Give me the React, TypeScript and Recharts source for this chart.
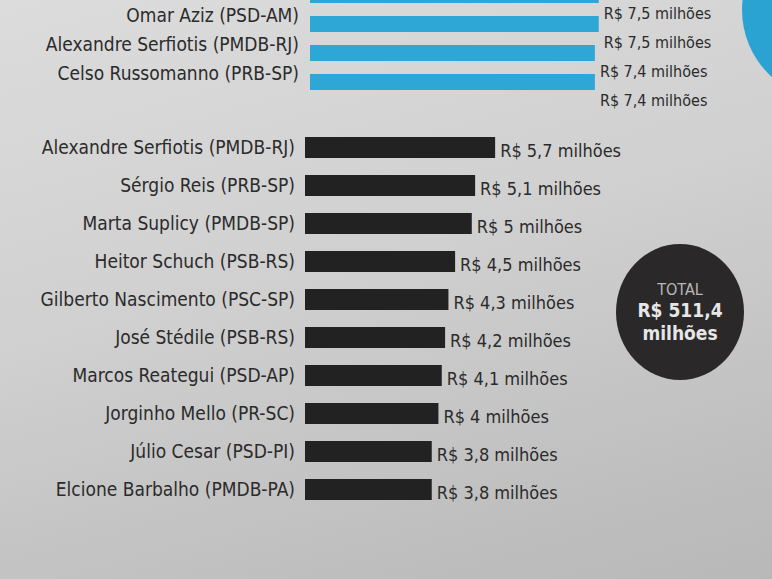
import React from "react";
import { BarChart, Bar, XAxis, YAxis, LabelList } from "recharts";

const topNames = ["", "Omar Aziz (PSD-AM)", "Alexandre Serfiotis (PMDB-RJ)", "Celso Russomanno (PRB-SP)"];
const topValues = [7.5, 7.5, 7.4, 7.4];

const names = [
  "Alexandre Serfiotis (PMDB-RJ)",
  "Sérgio Reis (PRB-SP)",
  "Marta Suplicy (PMDB-SP)",
  "Heitor Schuch (PSB-RS)",
  "Gilberto Nascimento (PSC-SP)",
  "José Stédile (PSB-RS)",
  "Marcos Reategui (PSD-AP)",
  "Jorginho Mello (PR-SC)",
  "Júlio Cesar (PSD-PI)",
  "Elcione Barbalho (PMDB-PA)",
];
const values = [5.7, 5.1, 5, 4.5, 4.3, 4.2, 4.1, 4, 3.8, 3.8];

const totalLabel = "TOTAL";
const totalValue = "R$ 511,4";
const totalUnit = "milhões";

const fmt = (v: number) => "R$ " + String(v).replace(".", ",") + " milhões";

const topData = topNames.map((n, i) => ({ id: "t" + i, name: n, value: topValues[i] }));
const data = names.map((n, i) => ({ id: "d" + i, name: n, value: values[i] }));

const FONT = "'DejaVu Sans Condensed', 'Liberation Sans Narrow', 'Roboto', sans-serif";
const TEXT = "#2b2b2b";

const NameTick = (props: any) => {
  const { x, y, payload, fontSize, shift } = props;
  const idx = payload.index;
  return (
    <text x={x} y={y + (shift || 0)} dy={fontSize * 0.35} textAnchor="end" fill={TEXT} fontSize={fontSize} fontFamily={FONT}>
      {props.labels[idx]}
    </text>
  );
};

const ValueLabel = (props: any) => {
  const { x, y, width, height, value, fontSize, offset, shift } = props;
  return (
    <text
      x={x + width + offset}
      y={y + height / 2 + (shift || 0)}
      dy={fontSize * 0.35}
      textAnchor="start"
      fill={TEXT}
      fontSize={fontSize}
      fontFamily={FONT}
    >
      {fmt(value)}
    </text>
  );
};

export default function App() {
  return (
    <div
      style={{
        position: "fixed",
        left: 0,
        top: 0,
        width: 772,
        height: 579,
        overflow: "hidden",
        background: "linear-gradient(165deg, #dcdcdc 0%, #d0d0d0 45%, #c0c0c0 80%, #b8b8b8 100%)",
      }}
    >
      {/* partial blue circle top-right */}
      <div
        style={{
          position: "absolute",
          left: 742,
          top: -80,
          width: 180,
          height: 180,
          borderRadius: "50%",
          background: "#2aa3d3",
        }}
      />
      <div style={{ position: "absolute", left: 0, top: -20 }}>
        <BarChart
          width={772}
          height={140}
          layout="vertical"
          data={topData}
          margin={{ top: 0, right: 0, bottom: 24, left: 0 }}
          barSize={16}
        >
          <XAxis type="number" domain={[0, 12]} hide />
          <YAxis
            type="category"
            dataKey="id"
            width={310}
            axisLine={false}
            tickLine={false}
            tickMargin={5}
            tick={<NameTick fontSize={19} labels={topNames} shift={-8} />}
            interval={0}
          />
          <Bar dataKey="value" fill="#2ea6d6" isAnimationActive={false}>
            <LabelList dataKey="value" content={<ValueLabel fontSize={16} offset={10} shift={18} />} />
          </Bar>
        </BarChart>
      </div>
      <div style={{ position: "absolute", left: 0, top: 128 }}>
        <BarChart
          width={772}
          height={380}
          layout="vertical"
          data={data}
          margin={{ top: 0, right: 0, bottom: 0, left: 0 }}
          barSize={21}
        >
          <XAxis type="number" domain={[0, 14]} hide />
          <YAxis
            type="category"
            dataKey="id"
            width={305}
            axisLine={false}
            tickLine={false}
            tickMargin={4}
            tick={<NameTick fontSize={19} labels={names} />}
            interval={0}
          />
          <Bar dataKey="value" fill="#232222" isAnimationActive={false}>
            <LabelList dataKey="value" content={<ValueLabel fontSize={18} offset={8} shift={3} />} />
          </Bar>
        </BarChart>
      </div>
      {/* total badge */}
      <div
        style={{
          position: "absolute",
          left: 616,
          top: 244,
          width: 128,
          height: 136,
          borderRadius: "50%",
          background: "#2a2828",
          display: "flex",
          flexDirection: "column",
          alignItems: "center",
          justifyContent: "center",
          fontFamily: FONT,
          lineHeight: 1.2,
        }}
      >
        <div style={{ color: "#b8b8b8", fontSize: 16 }}>{totalLabel}</div>
        <div style={{ color: "#e6e6e6", fontSize: 19, fontWeight: 700 }}>{totalValue}</div>
        <div style={{ color: "#e6e6e6", fontSize: 19, fontWeight: 700 }}>{totalUnit}</div>
      </div>
    </div>
  );
}
